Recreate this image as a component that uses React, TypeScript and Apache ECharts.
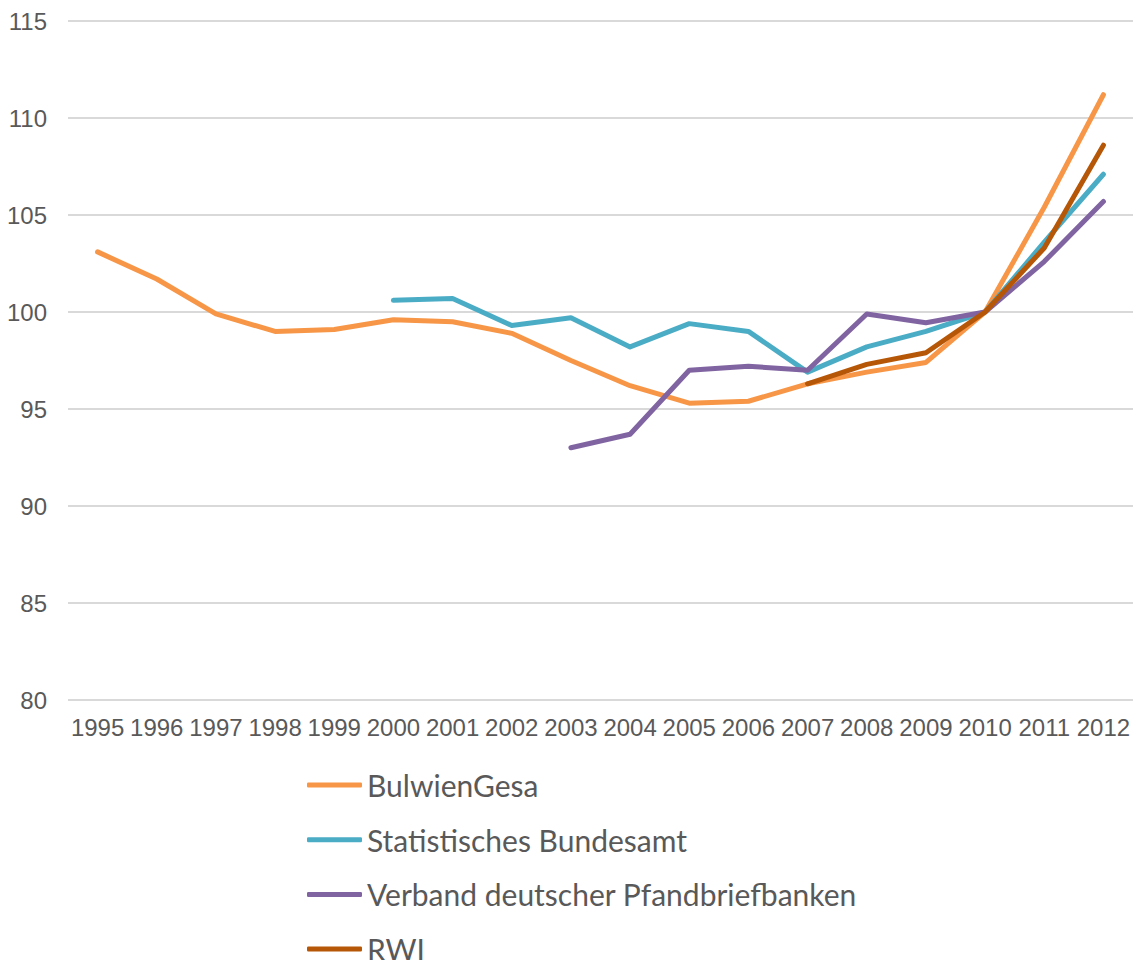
import React, { useEffect, useRef } from "react";
import * as echarts from "echarts";

const years = ["1995","1996","1997","1998","1999","2000","2001","2002","2003","2004","2005","2006","2007","2008","2009","2010","2011","2012"];
const bulwienGesa = [103.1, 101.7, 99.9, 99.0, 99.1, 99.6, 99.5, 98.9, 97.5, 96.2, 95.3, 95.4, 96.3, 96.9, 97.4, 100, 105.4, 111.2];
const statBundesamt = [null, null, null, null, null, 100.6, 100.7, 99.3, 99.7, 98.2, 99.4, 99.0, 96.9, 98.2, 99.0, 100, 103.6, 107.1];
const vdp = [null, null, null, null, null, null, null, null, 93.0, 93.7, 97.0, 97.2, 97.0, 99.9, 99.45, 100, 102.6, 105.7];
const rwi = [null, null, null, null, null, null, null, null, null, null, null, null, 96.3, 97.3, 97.9, 100, 103.3, 108.6];
const seriesNames = ["BulwienGesa", "Statistisches Bundesamt", "Verband deutscher Pfandbriefbanken", "RWI"];
const colors = ["#F79646", "#4BACC6", "#8064A2", "#B65708"];

export default function App() {
  const ref = useRef<HTMLDivElement>(null);
  useEffect(() => {
    document.body.style.margin = "0";
    const chart = echarts.init(ref.current!, null, { renderer: "svg" });
    const data = [bulwienGesa, statBundesamt, vdp, rwi];
    chart.setOption({
      animation: false,
      backgroundColor: "#ffffff",
      grid: { left: 68, right: 4, top: 21, bottom: 260, containLabel: false },
      legend: {
        orient: "vertical",
        left: 307,
        top: 770,
        height: 300,
        padding: 0,
        itemWidth: 55,
        itemHeight: 5,
        itemGap: 24.7,
        icon: "roundRect",
        textStyle: { fontFamily: "Lato", fontSize: 30, lineHeight: 30, color: "#595959" },
        data: seriesNames,
      },
      xAxis: {
        type: "category",
        data: years,
        boundaryGap: true,
        axisLine: { show: false },
        axisTick: { show: false },
        axisLabel: { interval: 0, fontFamily: "Liberation Sans", fontSize: 24, color: "#595959", margin: 15 },
      },
      yAxis: {
        type: "value",
        min: 80,
        max: 115,
        interval: 5,
        axisLine: { show: false },
        axisTick: { show: false },
        axisLabel: { fontFamily: "Liberation Sans", fontSize: 24, color: "#595959", margin: 21 },
        splitLine: { lineStyle: { color: "#D9D9D9", width: 2 } },
      },
      series: seriesNames.map((n, i) => ({
        name: n,
        type: "line",
        data: data[i],
        symbol: "none",
        color: colors[i],
        lineStyle: { width: 5, color: colors[i], cap: "round", join: "round" },
        connectNulls: false,
      })),
    });
    return () => chart.dispose();
  }, []);
  return <div ref={ref} style={{ width: 1137, height: 960 }} />;
}
